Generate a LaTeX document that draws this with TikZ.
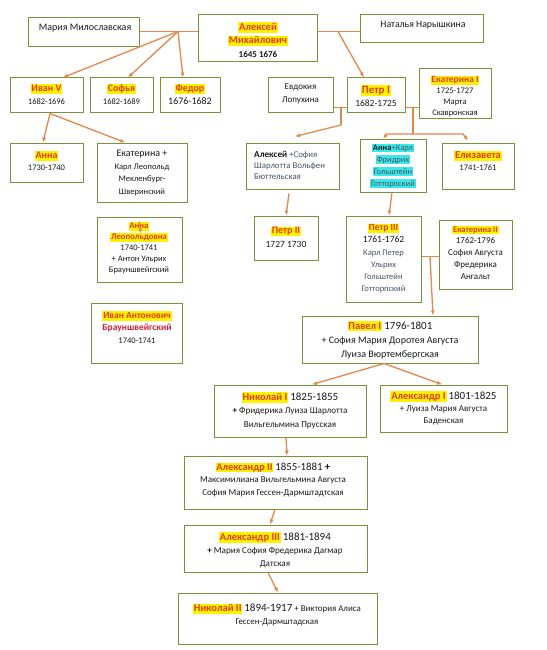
\documentclass[tikz,border=0pt]{standalone}
\usepackage{fontspec}
\setmainfont{Carlito}
\usetikzlibrary{arrows.meta}
\definecolor{boxgreen}{HTML}{77933C}
\definecolor{arrorange}{HTML}{E3884C}
\definecolor{hlyel}{HTML}{FFF200}
\definecolor{namered}{HTML}{E53A0C}
\definecolor{crim}{HTML}{D0213A}
\definecolor{hlcyan}{HTML}{3BE8E8}
\definecolor{slate}{HTML}{44546A}
\definecolor{inktxt}{HTML}{1A1A1A}
\newcommand{\fsz}[1]{\fontsize{#1}{\baselineskip}\selectfont}
\newcommand{\nm}[2][10]{{\setlength{\fboxsep}{0.8pt}\colorbox{hlyel}{\fontsize{#1}{12}\selectfont\bfseries\color{namered}\vphantom{Ay}#2}}}
\newcommand{\cy}[1]{{\setlength{\fboxsep}{1pt}\colorbox{hlcyan}{\vphantom{Ay}#1}}}
\tikzset{
  box/.style={draw=boxgreen, line width=1pt, fill=white, inner sep=0pt},
  txt/.style={inner sep=0pt, align=center, text=inktxt, font=\fontsize{8.5}{#1}\selectfont},
  txt/.default=12,
  conn/.style={draw=arrorange, color=arrorange, line width=1.3pt},
  arr/.style={conn, -{Latex[length=5pt,width=4.2pt]}}
}
\begin{document}
\begin{tikzpicture}[x=1pt, y=-1pt]
\fill[white] (0,0) rectangle (546,650);
\useasboundingbox (0,0) rectangle (546,650);
% boxes
\node[box, minimum width=111pt, minimum height=29pt] (maria) at (83.5,32.5) {};
\node[box, minimum width=119pt, minimum height=47pt] (aleksei) at (257.5,38.5) {};
\node[box, minimum width=123pt, minimum height=28pt] (natalia) at (421.5,29) {};
\node[box, minimum width=73pt, minimum height=35pt] (ivan) at (46.5,95.5) {};
\node[box, minimum width=63pt, minimum height=35pt] (sofia) at (121.5,95.5) {};
\node[box, minimum width=60pt, minimum height=35pt] (fedor) at (190,95.5) {};
\node[box, minimum width=65pt, minimum height=35pt] (evdokia) at (300.5,95.5) {};
\node[box, minimum width=58pt, minimum height=35pt] (petr1) at (376,95.5) {};
\node[box, minimum width=72pt, minimum height=50pt] (ekat1) at (455,94) {};
\node[box, minimum width=73pt, minimum height=39pt] (anna) at (46.5,162.5) {};
\node[box, minimum width=90pt, minimum height=59pt] (ekaterina) at (142,172.5) {};
\node[box, minimum width=85pt, minimum height=65pt] (annaleo) at (139.5,249.5) {};
\node[box, minimum width=91pt, minimum height=60pt] (ivanant) at (136.5,333) {};
\node[box, minimum width=93pt, minimum height=46pt] (alekseisof) at (292.5,166) {};
\node[box, minimum width=66pt, minimum height=53pt] (annakarl) at (393,165.5) {};
\node[box, minimum width=72pt, minimum height=46pt] (elizaveta) at (478,166) {};
\node[box, minimum width=64pt, minimum height=44pt] (petr2) at (286,238) {};
\node[box, minimum width=75pt, minimum height=86pt] (petr3) at (383.5,259) {};
\node[box, minimum width=73pt, minimum height=69pt] (ekat2) at (475.5,254.5) {};
\node[box, minimum width=176pt, minimum height=47pt] (pavel) at (390,339.5) {};
\node[box, minimum width=152pt, minimum height=52pt] (nikolai1) at (290,411) {};
\node[box, minimum width=127pt, minimum height=47pt] (alex1) at (443.5,408.5) {};
\node[box, minimum width=183pt, minimum height=53pt] (alex2) at (275.5,482.5) {};
\node[box, minimum width=183pt, minimum height=47pt] (alex3) at (275.5,548.5) {};
\node[box, minimum width=199pt, minimum height=51pt] (nikolai2) at (277.5,618.5) {};
% texts
\node[txt, font=\fontsize{10}{12}\selectfont] (mariat) at (85,28) {Мария Милославская};
\node[txt=13.5] (alekseit) at (258,40) {\nm[10.5]{Алексей}\\ \nm[10.5]{Михайлович}\\ {\bfseries\fsz{9}1645 1676}};
\node[txt, font=\fontsize{9.8}{12}\selectfont] (nataliat) at (423,25) {Наталья Нарышкина};
\node[txt=13] (ivant) at (46.5,94.5) {\nm[10]{Иван V}\\ 1682-1696};
\node[txt=13] (sofiat) at (121.5,94.5) {\nm[10]{Софья}\\ 1682-1689};
\node[txt=13] (fedort) at (190,94.5) {\nm[10]{Федор}\\ {\fsz{10}1676-1682}};
\node[txt, font=\fontsize{9}{12.5}\selectfont] (evdokiat) at (300.5,94) {Евдокия\\ Лопухина};
\node[txt=13] (petr1t) at (376,96) {\nm[11]{Петр I}\\ {\fsz{9.5}1682-1725}};
\node[txt=11] (ekat1t) at (455,96.5) {\nm[9.5]{Екатерина I}\\ 1725-1727\\ Марта\\ Скавронская};
\node[txt=12.5] (annat) at (46.5,161) {\nm[10]{Анна}\\ 1730-1740};
\node[txt=12.7] (ekaterinat) at (142,173) {{\fsz{10}Екатерина +}\\ Карл Леопольд\\ Мекленбург-\\ Шверинский};
\node[txt=11] (annaleot) at (139,248) {\nm[8.7]{Анна}\\ \nm[8.7]{Леопольдовна}\\ 1740-1741\\ + Антон Ульрих\\ Брауншвейгский};
\node[txt=12.5] (ivanantt) at (137,327.5) {\nm[9.5]{Иван Антонович}\\ {\bfseries\color{crim}\fsz{9.5}Брауншвейгский}\\ 1740-1741};
\node[txt=11, anchor=west, align=left, font=\fontsize{8.8}{11}\selectfont] (alekseisoft) at (254,165) {{\bfseries\fsz{9.2}Алексей} {\color{slate}+София}\\ {\color{slate}Шарлотта Вольфен}\\ {\color{slate}Бюттельская}};
\node[txt=12] (annakarlt) at (393,166) {\cy{\textbf{Анна}\textcolor{slate}{+Карл}}\\ \cy{\textcolor{slate}{Фридрих}}\\ \cy{\textcolor{slate}{Гольштейн}}\\ \cy{\textcolor{slate}{Готторпский}}};
\node[txt=12] (elizavetat) at (478,161) {\nm[10.5]{Елизавета}\\ 1741-1761};
\node[txt=13.5] (petr2t) at (286,237) {\nm[10]{Петр II}\\ {\fsz{9.5}1727 1730}};
\node[txt=12.2] (petr3t) at (383.5,258.5) {\nm[9.5]{Петр III}\\ {\fsz{9.5}1761-1762}\\ {\color{slate}Карл Петер}\\ {\color{slate}Ульрих}\\ {\color{slate}Гольштейн}\\ {\color{slate}Готторпский}};
\node[txt=11.8, font=\fontsize{9}{11.8}\selectfont] (ekat2t) at (475.5,252.5) {\nm[8.5]{Екатерина II}\\ 1762-1796\\ София Августа\\ Фредерика\\ Ангальт};
\node[txt=14, font=\fontsize{10}{14}\selectfont] (pavelt) at (390,340) {\nm[10.5]{Павел I} {\fsz{11}1796-1801}\\ + София Мария Доротея Августа\\ Луиза Вюртембергская};
\node[txt=13.5, font=\fontsize{9.1}{13.5}\selectfont] (nikolai1t) at (290,410.5) {\nm[10.5]{Николай I} {\fsz{11}1825-1855}\\ {\bfseries +} Фридерика Луиза Шарлотта\\ Вильгельмина Прусская};
\node[txt=12, font=\fontsize{9}{12}\selectfont] (alex1t) at (443.5,408) {\nm[10.5]{Александр I} {\fsz{11}1801-1825}\\ + Луиза Мария Августа\\ Баденская};
\node[txt=12.5, font=\fontsize{9}{12.5}\selectfont] (alex2t) at (273,479.5) {\nm[10.3]{Александр II} {\fsz{10.8}1855-1881 \textbf{+}}\\ Максимилиана Вильгельмина Августа\\ София Мария Гессен-Дармштадтская};
\node[txt=13, font=\fontsize{9.1}{13}\selectfont] (alex3t) at (275,550) {\nm[10.5]{Александр III} {\fsz{11}1881-1894}\\ {\bfseries +} Мария София Фредерика Дагмар\\ Датская};
\node[txt=12.5, font=\fontsize{8.9}{12.5}\selectfont] (nikolai2t) at (277,614.5) {\nm[10.5]{Николай II} {\fsz{11}1894-1917} + Виктория Алиса\\ Гессен-Дармштадская};
% junctions
\coordinate (j1) at (178,31.5);
\coordinate (j2) at (338,31.5);
\coordinate (j3) at (341,107.5);
\coordinate (j3b) at (341,125);
\coordinate (j4) at (413,107.5);
\coordinate (j4b) at (413,134);
\coordinate (j5) at (430,256.5);
% connectors
\draw[conn] (maria.east |- j1) -- (aleksei.west |- j1);
\draw[arr] (j1) -- ([xshift=16.5pt]ivan.north);
\draw[arr] (j1) -- ([xshift=6.5pt]sofia.north);
\draw[arr] (j1) -- ([xshift=-7pt]fedor.north);
\draw[conn] (aleksei.east |- j2) -- (natalia.west |- j2);
\draw[arr] (j2) -- ([xshift=-12pt]petr1.north);
\draw[conn] (evdokia.east |- j3) -- (petr1.west |- j3);
\draw[conn] (j3) -- (j3b);
\draw[arr] (j3b) -- ([xshift=2.5pt,yshift=6pt]alekseisof.north);
\draw[conn] (petr1.east |- j4) -- (ekat1.west |- j4);
\draw[conn] (j4) -- (j4b);
\draw[arr] (j4b) -- ++(-26,0) -- ([xshift=-10pt]annakarl.north);
\draw[arr] (j4b) -- ++(50,0) -- ([xshift=-10pt,yshift=2pt]elizaveta.north);
\draw[arr] ([xshift=3.5pt]ivan.south) -- ([xshift=-3.5pt]anna.north);
\draw[arr] ([xshift=3.5pt]ivan.south) -- ([xshift=-17pt]ekaterina.north);
\draw[arr] ([xshift=-0.5pt,yshift=-5pt]annaleo.north) -- ([xshift=1.5pt,yshift=-17pt]annaleo.north);
\draw[arr] ([xshift=-3.5pt,yshift=-4pt]alekseisof.south) -- (petr2.north);
\draw[arr] ([xshift=-1pt]annakarl.south) -- ([xshift=5.5pt]petr3.north);
\draw[conn] (petr3.east |- j5) -- (ekat2.west |- j5);
\draw[arr] (j5) -- ([xshift=43pt]pavel.north);
\draw[arr] ([xshift=-6pt]pavel.south) -- ([xshift=22pt]nikolai1.north);
\draw[arr] ([xshift=-6pt]pavel.south) -- ([xshift=-1.5pt]alex1.north);
\draw[arr] ([xshift=-4pt]nikolai1.south) -- ([xshift=11.5pt]alex2.north);
\draw[arr] ([xshift=-0.5pt]alex2.south) -- ([xshift=-5.5pt]alex3.north);
\draw[arr] ([xshift=-7.5pt]alex3.south) -- ([xshift=0.5pt]nikolai2.north);
\end{tikzpicture}
\end{document}
